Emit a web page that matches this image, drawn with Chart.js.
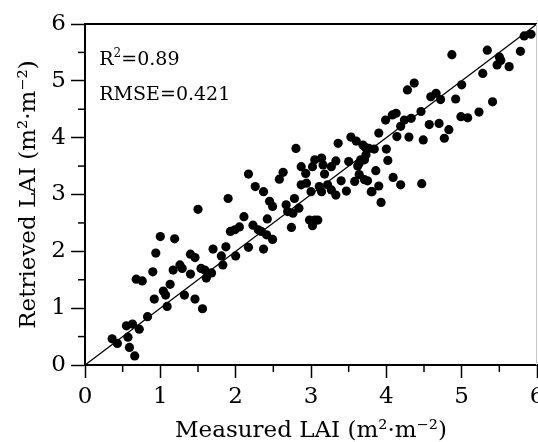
<!DOCTYPE html>
<html>
<head>
<meta charset="utf-8">
<script src="https://cdn.jsdelivr.net/npm/chart.js@4.4.1/dist/chart.umd.min.js"></script>
<style>
  html, body { margin: 0; padding: 0; background: #fff; overflow: hidden; }
</style>
</head>
<body>
<canvas id="chart" width="538" height="442"></canvas>
<script>
// Measured vs retrieved LAI (m2/m2)
const measuredLAI = [
  0.36, 0.43, 0.55, 0.57, 0.59, 0.63, 0.66, 0.72, 0.83, 0.92,
  1.09, 1.32, 1.46, 1.56, 1.04, 1.07, 1.13, 0.68, 0.76, 0.90,
  1.17, 1.26, 1.29, 1.40, 1.54, 1.59, 1.63, 1.68, 1.61, 0.94,
  1.00, 1.19, 1.40, 1.46, 1.70, 1.87, 1.81, 2.00, 1.83, 2.17,
  2.37, 1.93, 1.99, 2.05, 2.23, 2.30, 2.34, 2.41, 2.49, 2.11,
  2.42, 2.74, 1.50, 1.90, 2.26, 2.37, 2.17, 2.58, 2.63, 2.45,
  2.49, 2.67, 2.78, 2.69, 2.76, 2.84, 2.98, 3.05, 3.09, 3.02,
  2.80, 2.87, 2.93, 2.87, 2.94, 3.05, 3.14, 3.02, 3.16, 3.27,
  3.33, 3.18, 3.00, 3.11, 3.22, 3.14, 3.27, 3.33, 3.47, 3.40,
  3.50, 3.64, 3.71, 3.58, 3.64, 3.71, 3.75, 3.80, 3.36, 3.53,
  3.60, 3.69, 3.77, 3.72, 3.73, 3.66, 3.62, 3.84, 3.90, 4.00,
  4.02, 3.86, 3.81, 3.90, 3.93, 4.09, 4.19, 4.47, 3.99, 4.08,
  4.13, 4.24, 4.33, 4.19, 4.14, 4.30, 4.49, 4.57, 4.70, 4.83,
  4.77, 4.46, 4.28, 4.37, 4.59, 4.66, 4.72, 4.92, 5.00, 4.99,
  5.08, 5.23, 5.41, 5.28, 4.87, 5.34, 5.50, 5.52, 5.47, 5.63,
  5.78, 5.83, 5.92
];
const retrievedLAI = [
  0.46, 0.38, 0.69, 0.49, 0.31, 0.72, 0.16, 0.63, 0.85, 1.16,
  1.03, 1.23, 1.16, 0.99, 1.30, 1.23, 1.42, 1.51, 1.48, 1.64,
  1.67, 1.76, 1.70, 1.60, 1.70, 1.67, 1.60, 1.62, 1.53, 1.97,
  2.26, 2.22, 1.95, 1.89, 2.04, 2.08, 1.92, 1.92, 1.76, 2.07,
  2.04, 2.35, 2.38, 2.43, 2.46, 2.38, 2.35, 2.29, 2.21, 2.61,
  2.57, 2.42, 2.74, 2.93, 3.14, 3.05, 3.36, 3.27, 3.39, 2.88,
  2.79, 2.82, 2.93, 2.70, 2.67, 2.76, 2.55, 2.55, 2.55, 2.45,
  3.81, 3.49, 3.37, 3.17, 3.20, 3.61, 3.64, 3.49, 3.52, 3.49,
  3.59, 3.36, 3.05, 3.14, 3.17, 3.05, 3.08, 2.99, 3.06, 3.24,
  3.58, 3.55, 3.61, 3.23, 3.35, 3.26, 3.24, 3.05, 3.90, 4.01,
  3.94, 3.87, 3.81, 3.83, 3.70, 3.61, 3.50, 3.80, 4.08, 3.80,
  3.60, 3.42, 3.05, 3.15, 2.86, 3.30, 3.17, 3.19, 4.31, 4.40,
  4.43, 4.31, 4.34, 4.20, 4.02, 4.01, 3.96, 4.23, 4.25, 4.14,
  3.99, 4.46, 4.84, 4.96, 4.72, 4.78, 4.67, 4.68, 4.93, 4.37,
  4.35, 4.45, 4.63, 5.13, 5.46, 5.54, 5.42, 5.36, 5.28, 5.25,
  5.52, 5.79, 5.82
];

// 1:1 line
const lineX = [0, 6];
const lineY = [0, 6];

const axisMin = 0;
const axisMax = 6;
const minorTicks = [0.5, 1.5, 2.5, 3.5, 4.5, 5.5];

const statR2 = '0.89';
const statRMSE = '0.421';

const fontFamily = '"DejaVu Serif", serif';

const points = measuredLAI.map((x, i) => ({ x: x, y: retrievedLAI[i] }));
const oneToOne = lineX.map((x, i) => ({ x: x, y: lineY[i] }));

// frame, minor ticks and the stats text
const decorPlugin = {
  id: 'decor',
  afterDraw(chart) {
    const { ctx, chartArea: a, scales: { x, y } } = chart;
    ctx.save();
    ctx.strokeStyle = '#000';
    ctx.lineWidth = 2;
    ctx.beginPath();
    ctx.moveTo(a.left, a.top);
    ctx.lineTo(a.right, a.top);
    ctx.stroke();
    ctx.strokeStyle = '#c8c8c8';
    ctx.lineWidth = 1;
    ctx.beginPath();
    ctx.moveTo(a.right - 0.5, a.top);
    ctx.lineTo(a.right - 0.5, a.bottom);
    ctx.stroke();

    ctx.strokeStyle = '#000';
    ctx.lineWidth = 1.5;
    minorTicks.forEach(v => {
      const px = x.getPixelForValue(v);
      ctx.beginPath();
      ctx.moveTo(px, a.bottom);
      ctx.lineTo(px, a.bottom + 7);
      ctx.stroke();
      const py = y.getPixelForValue(v);
      ctx.beginPath();
      ctx.moveTo(a.left, py);
      ctx.lineTo(a.left - 7, py);
      ctx.stroke();
    });

    ctx.fillStyle = '#000';
    ctx.textBaseline = 'alphabetic';
    ctx.textAlign = 'left';
    let tx = x.getPixelForValue(0.19);
    let ty = y.getPixelForValue(5.28);
    ctx.font = '19px ' + fontFamily;
    ctx.fillText('R', tx, ty);
    tx += ctx.measureText('R').width;
    ctx.font = '12px ' + fontFamily;
    ctx.fillText('2', tx, ty - 8);
    tx += ctx.measureText('2').width;
    ctx.font = '19px ' + fontFamily;
    ctx.fillText('=' + statR2, tx, ty);

    ctx.fillText('RMSE=' + statRMSE, x.getPixelForValue(0.19), y.getPixelForValue(4.67));
    ctx.restore();
  }
};

new Chart(document.getElementById('chart'), {
  type: 'scatter',
  data: {
    datasets: [
      {
        label: 'LAI',
        data: points,
        backgroundColor: '#000',
        borderWidth: 0,
        pointRadius: 4.6,
        pointHoverRadius: 4.6
      },
      {
        label: '1:1',
        type: 'line',
        data: oneToOne,
        borderColor: '#000',
        borderWidth: 1.3,
        pointRadius: 0,
        fill: false
      }
    ]
  },
  options: {
    responsive: false,
    animation: false,
    layout: { autoPadding: false, padding: { top: 24, right: 1, left: 0, bottom: 0 } },
    plugins: {
      legend: { display: false },
      tooltip: { enabled: false }
    },
    scales: {
      x: {
        type: 'linear',
        min: axisMin,
        max: axisMax,
        grid: { drawOnChartArea: false, tickLength: 13, tickWidth: 1.5, tickColor: '#000' },
        border: { color: '#000', width: 2 },
        ticks: {
          stepSize: 1,
          padding: 5,
          color: '#000',
          font: { family: fontFamily, size: 23 }
        },
        title: {
          display: true,
          text: 'Measured LAI (m²·m⁻²)',
          color: '#000',
          font: { family: fontFamily, size: 23 },
          padding: { top: 0, bottom: -3 }
        },
        afterFit(scale) {
          scale.height = 77;
          scale.paddingLeft = 0;
          scale.paddingRight = 0;
        }
      },
      y: {
        type: 'linear',
        min: axisMin,
        max: axisMax,
        grid: { drawOnChartArea: false, tickLength: 14, tickWidth: 1.5, tickColor: '#000' },
        border: { color: '#000', width: 2 },
        ticks: {
          stepSize: 1,
          padding: 5,
          color: '#000',
          font: { family: fontFamily, size: 23 }
        },
        title: {
          display: true,
          text: 'Retrieved LAI (m²·m⁻²)',
          color: '#000',
          font: { family: fontFamily, size: 23 },
          padding: { top: 15, bottom: 0 }
        },
        afterFit(scale) {
          scale.width = 85;
          scale.paddingTop = 0;
          scale.paddingBottom = 0;
        }
      }
    }
  },
  plugins: [decorPlugin]
});
</script>
</body>
</html>
